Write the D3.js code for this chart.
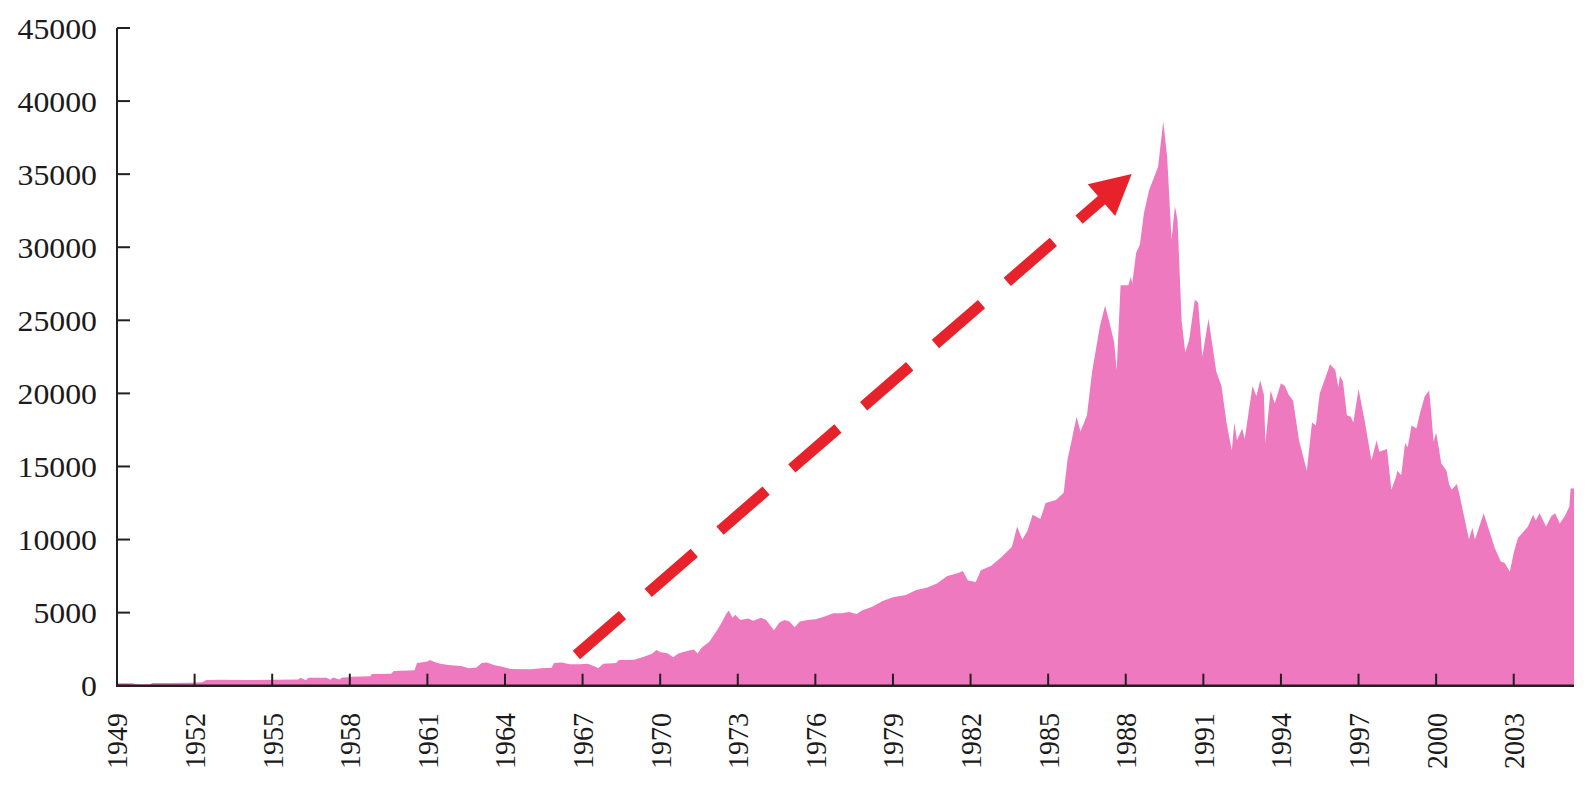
<!DOCTYPE html>
<html>
<head>
<meta charset="utf-8">
<script src="https://cdn.jsdelivr.net/npm/d3@7"></script>
<style>
  body { margin: 0; background: #fff; }
  text { font-family: "Liberation Serif", "Times New Roman", serif; fill: #1c1a1b; }
</style>
</head>
<body>
<div id="chart"></div>
<script>
// decimal year of each reading
var years = [
    1949.0, 1949.6, 1949.75, 1950.0, 1950.3, 1950.35, 1951.0, 1951.8, 1952.3, 1952.45,
    1953.0, 1954.0, 1955.0, 1956.0, 1956.1, 1956.3, 1956.4, 1957.1, 1957.25, 1957.35,
    1957.6, 1957.7, 1958.0, 1958.05, 1958.8, 1958.85, 1959.6, 1959.7, 1960.5, 1960.6,
    1961.0, 1961.1, 1961.3, 1961.5, 1961.8, 1962.3, 1962.6, 1962.9, 1963.1, 1963.3,
    1963.6, 1963.9, 1964.2, 1965.0, 1965.4, 1965.8, 1965.9, 1966.2, 1966.5, 1966.9,
    1967.2, 1967.5, 1967.6, 1967.8, 1968.3, 1968.4, 1969.0, 1969.4, 1969.7, 1969.85,
    1970.0, 1970.3, 1970.5, 1970.7, 1971.0, 1971.3, 1971.45, 1971.6, 1971.9, 1972.2,
    1972.4, 1972.55, 1972.65, 1972.8, 1972.9, 1973.1, 1973.4, 1973.6, 1973.9, 1974.1,
    1974.4, 1974.6, 1974.8, 1975.0, 1975.2, 1975.4, 1975.7, 1976.0, 1976.3, 1976.7,
    1977.0, 1977.3, 1977.6, 1977.8, 1978.2, 1978.6, 1979.0, 1979.5, 1979.9, 1980.3,
    1980.7, 1981.1, 1981.5, 1981.7, 1981.9, 1982.2, 1982.4, 1982.8, 1983.2, 1983.6,
    1983.8, 1984.0, 1984.2, 1984.4, 1984.7, 1984.9, 1985.3, 1985.6, 1985.75, 1985.85,
    1986.1, 1986.25, 1986.5, 1986.7, 1987.0, 1987.2, 1987.35, 1987.55, 1987.65, 1987.8,
    1988.1, 1988.2, 1988.25, 1988.4, 1988.55, 1988.7, 1988.9, 1989.1, 1989.25, 1989.45,
    1989.6, 1989.77, 1989.9, 1990.0, 1990.16, 1990.3, 1990.45, 1990.67, 1990.8, 1990.96,
    1991.2, 1991.5, 1991.7, 1991.9, 1992.1, 1992.2, 1992.3, 1992.5, 1992.6, 1992.9,
    1993.05, 1993.2, 1993.34, 1993.4, 1993.6, 1993.76, 1994.0, 1994.15, 1994.3, 1994.47,
    1994.7, 1995.0, 1995.2, 1995.35, 1995.5, 1995.9, 1996.1, 1996.22, 1996.28, 1996.4,
    1996.55, 1996.7, 1996.8, 1997.0, 1997.23, 1997.5, 1997.7, 1997.8, 1998.1, 1998.27,
    1998.45, 1998.5, 1998.65, 1998.8, 1998.9, 1999.05, 1999.24, 1999.37, 1999.56, 1999.73,
    1999.8, 1999.9, 2000.0, 2000.1, 2000.2, 2000.4, 2000.5, 2000.6, 2000.8, 2000.9,
    2001.27, 2001.4, 2001.5, 2001.84, 2002.0, 2002.27, 2002.5, 2002.65, 2002.85, 2003.0,
    2003.16, 2003.36, 2003.55, 2003.75, 2003.85, 2004.0, 2004.25, 2004.45, 2004.6, 2004.78,
    2004.97, 2005.15, 2005.2, 2005.33
];

// index level
var nikkei = [
    170, 160, 100, 90, 100, 180, 190, 200, 230, 390,
    400, 390, 400, 420, 540, 380, 550, 550, 400, 560,
    420, 560, 570, 620, 640, 800, 820, 1000, 1050, 1550,
    1650, 1760, 1600, 1500, 1420, 1350, 1200, 1250, 1550, 1580,
    1400, 1300, 1150, 1120, 1190, 1220, 1550, 1580, 1470, 1460,
    1500, 1300, 1200, 1500, 1550, 1750, 1780, 2000, 2200, 2450,
    2300, 2200, 1950, 2200, 2350, 2480, 2200, 2600, 3000, 3800,
    4400, 4900, 5150, 4650, 4850, 4500, 4600, 4450, 4650, 4500,
    3800, 4300, 4500, 4400, 4000, 4400, 4500, 4550, 4700, 4950,
    4950, 5050, 4900, 5150, 5400, 5800, 6050, 6200, 6550, 6700,
    7000, 7500, 7700, 7850, 7200, 7100, 7900, 8200, 8800, 9500,
    10900, 10000, 10600, 11700, 11400, 12500, 12700, 13200, 15500, 16300,
    18400, 17400, 18500, 21500, 24600, 26000, 25000, 23500, 21600, 27400,
    27400, 28000, 27500, 29600, 30200, 32300, 33900, 34800, 35500, 38600,
    36200, 30500, 32800, 31900, 25000, 22800, 23650, 26400, 26200, 22500,
    25100, 21500, 20500, 17950, 16100, 18000, 16800, 17600, 16900, 20500,
    19800, 20900, 19900, 16600, 20200, 19300, 20700, 20500, 19900, 19500,
    16800, 14700, 18000, 17800, 20000, 22000, 21600, 20400, 21200, 20800,
    18500, 18400, 18000, 20300, 18200, 15400, 16800, 16000, 16200, 13400,
    14300, 14700, 14400, 16600, 16300, 17800, 17600, 18600, 19800, 20200,
    18900, 16700, 17300, 16300, 15200, 14700, 13800, 13400, 13800, 13100,
    10000, 10800, 10000, 11800, 10900, 9400, 8500, 8400, 7800, 9100,
    10100, 10500, 10900, 11700, 11300, 11800, 10900, 11600, 11800, 11100,
    11600, 12250, 13500, 13500
];

var yTicks = [0, 5000, 10000, 15000, 20000, 25000, 30000, 35000, 40000, 45000];
var xTickYears = [1949, 1952, 1955, 1958, 1961, 1964, 1967, 1970, 1973, 1976,
                  1979, 1982, 1985, 1988, 1991, 1994, 1997, 2000, 2003];

// dashed arrow, in data units [year, value]
var arrowFrom = [1966.76, 2100];
var arrowTo = [1988.23, 35010];

var width = 1586;
var height = 789;
var textScale = 1.06;

var data = years.map((y, i) => ({year: y, value: nikkei[i]}));

var x = d3.scaleLinear().domain([1949, 2005.33]).range([117, 1574]);
var y = d3.scaleLinear().domain([0, 45000]).range([685.7, 28]);

var svg = d3.select("#chart")
    .append("svg")
    .attr("width", width)
    .attr("height", height);

var area = d3.area()
    .x(d => x(d.year))
    .y0(y(0))
    .y1(d => y(d.value));

svg.append("path")
    .datum(data)
    .attr("fill", "#ef79be")
    .attr("d", area);

// arrow
var s = [x(arrowFrom[0]), y(arrowFrom[1])];
var t = [x(arrowTo[0]), y(arrowTo[1])];
var len = Math.hypot(t[0] - s[0], t[1] - s[1]);
var ux = (t[0] - s[0]) / len, uy = (t[1] - s[1]) / len;
var headLen = 40, headHalf = 21;
var b = [t[0] - ux * headLen, t[1] - uy * headLen];

svg.append("line")
    .attr("x1", s[0]).attr("y1", s[1])
    .attr("x2", b[0] + ux * 4).attr("y2", b[1] + uy * 4)
    .attr("stroke", "#e8222a")
    .attr("stroke-width", 11)
    .attr("stroke-dasharray", "61,34");

svg.append("polygon")
    .attr("points", [
        t,
        [b[0] - uy * headHalf, b[1] + ux * headHalf],
        [b[0] + uy * headHalf, b[1] - ux * headHalf]
    ].map(p => p.join(",")).join(" "))
    .attr("fill", "#e8222a");

// y axis
var yAxis = svg.append("g");
yAxis.append("line")
    .attr("x1", 117).attr("x2", 117)
    .attr("y1", y(45000)).attr("y2", y(0))
    .attr("stroke", "#231f20").attr("stroke-width", 2);
yAxis.selectAll(".tick")
    .data(yTicks)
    .join("line")
    .attr("x1", 117).attr("x2", 130)
    .attr("y1", d => y(d)).attr("y2", d => y(d))
    .attr("stroke", "#231f20").attr("stroke-width", 2);
yAxis.selectAll("text")
    .data(yTicks)
    .join("text")
    .attr("transform", d => `translate(97,${y(d)}) scale(${textScale},1)`)
    .attr("dy", "0.35em")
    .attr("text-anchor", "end")
    .style("font-size", "30px")
    .text(d => d);

// x axis
var xAxis = svg.append("g");
xAxis.selectAll(".tick")
    .data(xTickYears)
    .join("line")
    .attr("x1", d => x(d)).attr("x2", d => x(d))
    .attr("y1", y(0)).attr("y2", y(0) - 12)
    .attr("stroke", "#231f20").attr("stroke-width", 2);
xAxis.append("line")
    .attr("x1", 116).attr("x2", x(2005.33))
    .attr("y1", y(0)).attr("y2", y(0))
    .attr("stroke", "#231f20").attr("stroke-width", 2.5);
xAxis.selectAll("text")
    .data(xTickYears)
    .join("text")
    .attr("transform", d => `translate(${x(d)},713) scale(${textScale},1) rotate(-90)`)
    .attr("dy", "0.35em")
    .attr("text-anchor", "end")
    .style("font-size", "28px")
    .text(d => d);
</script>
</body>
</html>
